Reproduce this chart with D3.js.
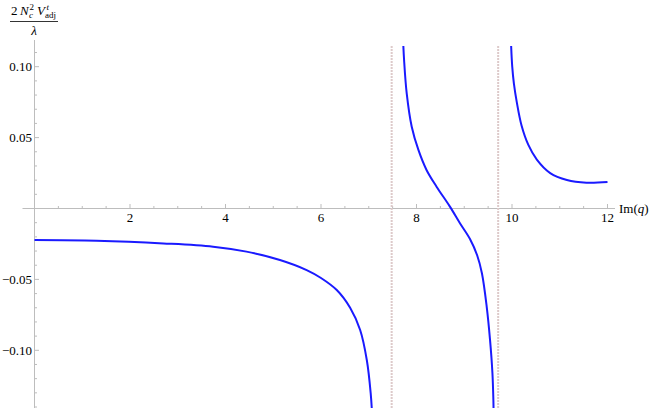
<!DOCTYPE html>
<html>
<head>
<meta charset="utf-8">
<script src="https://cdn.jsdelivr.net/npm/d3@7"></script>
<style>
  body { margin: 0; background: #fff; }
</style>
</head>
<body>
<script>
var width = 654,
    height = 408;

// branch 1: left of first pole
var branch1 = [
  [0, -0.0222], [1.30, -0.0227], [2.70, -0.0246], [3.74, -0.0269], [4.44, -0.0304],
  [5.14, -0.0363], [5.70, -0.0434], [6.00, -0.0490], [6.33, -0.0575], [6.61, -0.0700],
  [6.82, -0.0857], [6.96, -0.1070], [7.04, -0.1300], [7.07, -0.1450]
];
// branch 2: between the poles
var branch2 = [
  [7.715, 0.122], [7.74, 0.1047], [7.795, 0.0812], [7.90, 0.0577], [8.04, 0.0413],
  [8.21, 0.0272], [8.42, 0.0154], [8.70, 0.0013], [8.91, -0.0104], [9.12, -0.0215],
  [9.27, -0.0330], [9.37, -0.0457], [9.47, -0.0692], [9.54, -0.0927], [9.59, -0.116],
  [9.61, -0.135], [9.615, -0.145]
];
// branch 3: right of second pole
var branch3 = [
  [9.972, 0.125], [9.982, 0.1146], [10.005, 0.1000], [10.04, 0.0880], [10.10, 0.0750],
  [10.20, 0.0585], [10.34, 0.0450], [10.52, 0.0345], [10.80, 0.0250], [11.15, 0.0201],
  [11.56, 0.0182], [12.00, 0.0187]
];
var poles = [7.48, 9.71];

var xMajor = [2, 4, 6, 8, 10, 12];
var yMajor = [0.10, 0.05, -0.05, -0.10];
var yLabels = ["0.10", "0.05", "\u22120.05", "\u22120.10"];

var x = d3.scaleLinear().domain([0, 12]).range([34.5, 607.5]);
var y = d3.scaleLinear().domain([-0.1, 0.1]).range([350.3, 66.7]);

var svg = d3.select("body").append("svg")
    .attr("width", width)
    .attr("height", height)
    .style("font-family", "Liberation Serif");

svg.append("defs").append("clipPath").attr("id", "plot")
  .append("rect")
    .attr("x", 0).attr("y", 46)
    .attr("width", width).attr("height", height - 46);

var axisColor = "#bdbdbd";

// x axis
svg.append("line")
    .attr("x1", 22.5).attr("x2", 615)
    .attr("y1", y(0)).attr("y2", y(0))
    .attr("stroke", axisColor).attr("stroke-width", 1);

var xMinor = d3.range(0.5, 12.01, 0.5).filter(function (d) { return d % 2 !== 0; });
svg.selectAll(".xminor").data(xMinor).enter().append("line")
    .attr("x1", function (d) { return x(d); }).attr("x2", function (d) { return x(d); })
    .attr("y1", y(0)).attr("y2", y(0) - 2.5)
    .attr("stroke", axisColor);
svg.selectAll(".xmajor").data(xMajor).enter().append("line")
    .attr("x1", function (d) { return x(d); }).attr("x2", function (d) { return x(d); })
    .attr("y1", y(0)).attr("y2", y(0) - 4.5)
    .attr("stroke", axisColor);
svg.selectAll(".xlab").data(xMajor).enter().append("text")
    .attr("x", function (d) { return x(d); })
    .attr("y", y(0) + 13)
    .attr("text-anchor", "middle")
    .attr("font-size", 13)
    .text(function (d) { return d; });

var im = svg.append("text")
    .attr("x", 619).attr("y", y(0) + 4.5)
    .attr("font-size", 13);
im.append("tspan").text("Im(");
im.append("tspan").attr("font-style", "italic").text("q");
im.append("tspan").text(")");

// y axis
svg.append("line")
    .attr("x1", x(0)).attr("x2", x(0))
    .attr("y1", 40).attr("y2", height)
    .attr("stroke", axisColor);

var yMinor = d3.range(-14, 12).map(function (d) { return d / 100; })
    .filter(function (d) { return Math.round(d * 100) % 5 !== 0; });
svg.selectAll(".yminor").data(yMinor).enter().append("line")
    .attr("x1", x(0)).attr("x2", x(0) + 2.5)
    .attr("y1", function (d) { return y(d); }).attr("y2", function (d) { return y(d); })
    .attr("stroke", axisColor);
svg.selectAll(".ymajor").data(yMajor).enter().append("line")
    .attr("x1", x(0)).attr("x2", x(0) + 4.5)
    .attr("y1", function (d) { return y(d); }).attr("y2", function (d) { return y(d); })
    .attr("stroke", axisColor);
svg.selectAll(".ylab").data(yMajor).enter().append("text")
    .attr("x", 32)
    .attr("y", function (d) { return y(d) + 4.5; })
    .attr("text-anchor", "end")
    .attr("font-size", 13)
    .text(function (d, i) { return yLabels[i]; });

// y label as fraction
var lab = svg.append("g").attr("font-size", 13);
lab.append("text").attr("x", 11).attr("y", 15).text("2");
lab.append("text").attr("x", 20).attr("y", 15).attr("font-style", "italic").text("N");
lab.append("text").attr("x", 29.5).attr("y", 9.5).attr("font-size", 9).text("2");
lab.append("text").attr("x", 29).attr("y", 18).attr("font-size", 9).attr("font-style", "italic").text("c");
lab.append("text").attr("x", 37).attr("y", 15).attr("font-style", "italic").text("V");
lab.append("text").attr("x", 46.5).attr("y", 9.5).attr("font-size", 9).attr("font-style", "italic").text("t");
lab.append("text").attr("x", 45).attr("y", 18).attr("font-size", 9).text("adj");
lab.append("line").attr("x1", 10).attr("x2", 58).attr("y1", 21.5).attr("y2", 21.5)
    .attr("stroke", "#000").attr("stroke-width", 0.8);
lab.append("text").attr("x", 34).attr("y", 34.5).attr("text-anchor", "middle")
    .attr("font-style", "italic").text("\u03bb");

// exclusion lines at the poles
svg.selectAll(".pole").data(poles).enter().append("line")
    .attr("x1", function (d) { return x(d); }).attr("x2", function (d) { return x(d); })
    .attr("y1", 46).attr("y2", height)
    .attr("stroke", "#ddcaca").attr("stroke-width", 2)
    .attr("stroke-dasharray", "2,1");

// curves
var line = d3.line()
    .x(function (d) { return x(d[0]); })
    .y(function (d) { return y(d[1]); })
    .curve(d3.curveCatmullRom.alpha(0.5));

svg.append("g").attr("clip-path", "url(#plot)")
  .selectAll("path").data([branch1, branch2, branch3]).enter().append("path")
    .attr("d", line)
    .attr("fill", "none")
    .attr("stroke", "#1a1aff")
    .attr("stroke-width", 2);
</script>
</body>
</html>
